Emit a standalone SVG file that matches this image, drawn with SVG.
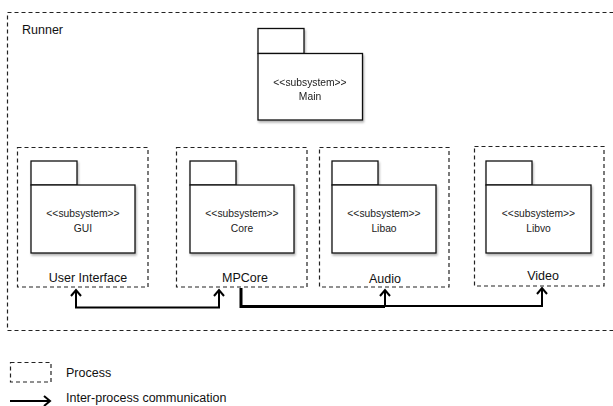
<svg xmlns="http://www.w3.org/2000/svg" width="613" height="406" viewBox="0 0 613 406">
  <style>
    .process { fill: none; stroke: #222; stroke-width: 1.2; stroke-dasharray: 4 3; }
    .pkg { fill: #fff; stroke: #111; stroke-width: 1.3; }
    .stereo { font-family: "Liberation Sans", Arial, sans-serif; font-size: 10.3px; fill: #222; text-anchor: middle; }
    .label { font-family: "Liberation Sans", Arial, sans-serif; font-size: 12.5px; fill: #111; }
    .mid { text-anchor: middle; }
    .wire { fill: none; stroke: #000; stroke-width: 2; }
    .head { fill: none; stroke: #000; stroke-width: 2; stroke-linejoin: miter; }
  </style>
  <defs>
    <filter id="shadow" x="-10%" y="-10%" width="130%" height="130%">
      <feDropShadow dx="1" dy="2" stdDeviation="1.3" flood-color="#000" flood-opacity="0.3"/>
    </filter>
    <marker id="arrow" viewBox="0 0 12 12" refX="10" refY="6" markerWidth="12" markerHeight="12" markerUnits="userSpaceOnUse" orient="auto-start-reverse">
      <path d="M4,1 L10,6 L4,11" fill="none" stroke="#000" stroke-width="2"/>
    </marker>
  </defs>

  <rect width="613" height="406" fill="#fff"/>

  <!-- Runner process (outer) -->
  <g id="runner">
    <rect class="process" x="7.5" y="12.5" width="620" height="318"/>
    <text class="label" x="22" y="34">Runner</text>
  </g>

  <!-- Main subsystem -->
  <g id="main" filter="url(#shadow)">
    <rect class="pkg" x="258" y="28.5" width="46" height="25"/>
    <rect class="pkg" x="258" y="53.5" width="104.5" height="66.5"/>
    <text class="stereo" x="310" y="85.5">&lt;&lt;subsystem&gt;&gt;</text>
    <text class="stereo" x="310" y="100">Main</text>
  </g>

  <!-- User Interface process -->
  <g id="user-interface">
    <rect class="process" x="17.5" y="147.5" width="130.5" height="139.5"/>
    <g filter="url(#shadow)">
      <rect class="pkg" x="31" y="161" width="46" height="24"/>
      <rect class="pkg" x="31" y="185" width="104" height="68"/>
    </g>
    <text class="stereo" x="83" y="217">&lt;&lt;subsystem&gt;&gt;</text>
    <text class="stereo" x="83" y="232">GUI</text>
    <text class="label mid" x="88" y="282">User Interface</text>
  </g>

  <!-- MPCore process -->
  <g id="mpcore">
    <rect class="process" x="176.5" y="147.5" width="130.5" height="139.5"/>
    <g filter="url(#shadow)">
      <rect class="pkg" x="190" y="161" width="46" height="24"/>
      <rect class="pkg" x="190" y="185" width="104" height="68"/>
    </g>
    <text class="stereo" x="242" y="217">&lt;&lt;subsystem&gt;&gt;</text>
    <text class="stereo" x="242" y="232">Core</text>
    <text class="label mid" x="245" y="282">MPCore</text>
  </g>

  <!-- Audio process -->
  <g id="audio">
    <rect class="process" x="319.5" y="147.5" width="129.5" height="139.5"/>
    <g filter="url(#shadow)">
      <rect class="pkg" x="332" y="161" width="46" height="24"/>
      <rect class="pkg" x="332" y="185" width="104" height="68"/>
    </g>
    <text class="stereo" x="384" y="217">&lt;&lt;subsystem&gt;&gt;</text>
    <text class="stereo" x="384" y="232">Libao</text>
    <text class="label mid" x="385" y="283">Audio</text>
  </g>

  <!-- Video process -->
  <g id="video">
    <rect class="process" x="474.5" y="146.5" width="129.5" height="139.5"/>
    <g filter="url(#shadow)">
      <rect class="pkg" x="486" y="161" width="46" height="24"/>
      <rect class="pkg" x="486" y="185" width="105" height="68"/>
    </g>
    <text class="stereo" x="538.5" y="217">&lt;&lt;subsystem&gt;&gt;</text>
    <text class="stereo" x="538.5" y="232">Libvo</text>
    <text class="label mid" x="543" y="280">Video</text>
  </g>

  <!-- Inter-process connectors -->
  <g id="connectors">
    <path class="wire" d="M76,290 L76,307.5 L219,307.5 L219,290" marker-start="url(#arrow)" marker-end="url(#arrow)"/>
    <path class="wire" d="M241,288 L241,306.5 L385,306.5" style="stroke-width:3"/>
    <path class="wire" d="M385,306.5 L385,290" marker-end="url(#arrow)"/>
    <path class="wire" d="M385,306 L542,306 L542,288" marker-end="url(#arrow)"/>
  </g>

  <!-- Legend -->
  <g id="legend">
    <rect class="process" x="10.5" y="362.5" width="40.5" height="19.5"/>
    <text class="label" x="66" y="377">Process</text>
    <path class="wire" d="M10,401 L50,401" marker-end="url(#arrow)"/>
    <text class="label" x="66" y="402">Inter-process communication</text>
  </g>
</svg>
